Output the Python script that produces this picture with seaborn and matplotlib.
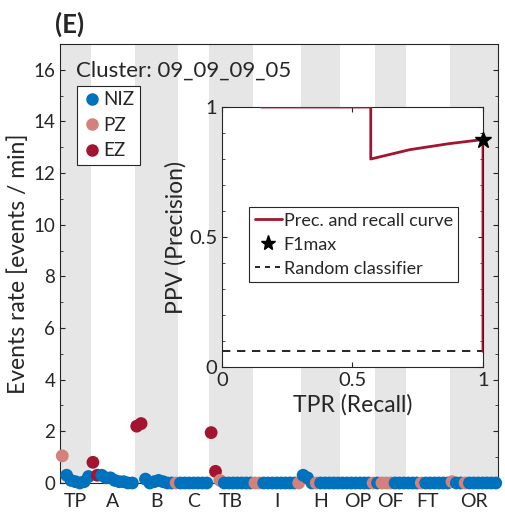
import numpy as np
import pandas as pd
import matplotlib
matplotlib.use('Agg')
import matplotlib.pyplot as plt
import seaborn as sns
from matplotlib.lines import Line2D

# phase categories
categories = ['TP', 'A', 'B', 'C', 'TB', 'I', 'H', 'OP', 'OF', 'FT', 'OR']

# event rates per sample (events / min), grouped by category
rates = [
    [1.05, 0.30, 0.10, 0.05, 0.00, 0.05, 0.25],
    [0.80, 0.30, 0.30, 0.20, 0.20, 0.10, 0.05, 0.05, 0.00, 0.00],
    [2.20, 2.30, 0.15, 0.00, 0.05, 0.10, 0.05, 0.00, 0.00, 0.00],
    [0.00, 0.00, 0.00, 0.00, 0.00, 0.00, 0.00],
    [1.95, 0.45, 0.10, 0.00, 0.00, 0.00, 0.00, 0.00, 0.00, 0.00],
    [0.00, 0.00, 0.00, 0.00, 0.00, 0.00, 0.00, 0.00, 0.00, 0.00, 0.00],
    [0.30, 0.20, 0.00, 0.00, 0.00, 0.00, 0.00, 0.00, 0.00],
    [0.00, 0.00, 0.00, 0.00, 0.00, 0.00, 0.00, 0.00],
    [0.00, 0.00, 0.00, 0.00, 0.00, 0.00, 0.00],
    [0.00, 0.00, 0.00, 0.00, 0.00, 0.00, 0.00, 0.00, 0.00, 0.00],
    [0.05, 0.00, 0.00, 0.00, 0.00, 0.00, 0.00, 0.00, 0.00, 0.00, 0.00],
]

# zone of each sample
zones = [
    ['PZ', 'NIZ', 'NIZ', 'NIZ', 'NIZ', 'NIZ', 'NIZ'],
    ['EZ', 'EZ', 'NIZ', 'NIZ', 'NIZ', 'NIZ', 'NIZ', 'NIZ', 'NIZ', 'NIZ'],
    ['EZ', 'EZ', 'NIZ', 'NIZ', 'NIZ', 'NIZ', 'NIZ', 'NIZ', 'NIZ', 'PZ'],
    ['NIZ', 'NIZ', 'NIZ', 'NIZ', 'NIZ', 'NIZ', 'NIZ'],
    ['EZ', 'EZ', 'PZ', 'NIZ', 'NIZ', 'NIZ', 'NIZ', 'NIZ', 'NIZ', 'NIZ'],
    ['PZ', 'PZ', 'NIZ', 'NIZ', 'NIZ', 'NIZ', 'NIZ', 'NIZ', 'NIZ', 'NIZ', 'PZ'],
    ['NIZ', 'NIZ', 'NIZ', 'PZ', 'NIZ', 'NIZ', 'NIZ', 'NIZ', 'NIZ'],
    ['NIZ', 'NIZ', 'NIZ', 'NIZ', 'NIZ', 'NIZ', 'NIZ', 'PZ'],
    ['NIZ', 'PZ', 'PZ', 'PZ', 'NIZ', 'NIZ', 'NIZ'],
    ['NIZ', 'NIZ', 'NIZ', 'PZ', 'NIZ', 'NIZ', 'NIZ', 'NIZ', 'NIZ', 'NIZ'],
    ['PZ', 'NIZ', 'NIZ', 'PZ', 'NIZ', 'NIZ', 'NIZ', 'NIZ', 'NIZ', 'NIZ', 'NIZ'],
]

# precision-recall curve
recall = [0.15, 0.57, 0.57, 0.72, 0.87, 1.0, 1.0]
precision = [1.0, 1.0, 0.80, 0.836, 0.859, 0.875, 0.06]
f1max_recall = 1.0
f1max_precision = 0.875
random_level = 0.06

zone_colors = {'NIZ': '#0072BD', 'PZ': '#D4807B', 'EZ': '#A2142F'}
curve_color = '#A2142F'

sns.set_style('ticks')
plt.rcParams['font.family'] = ['Lato', 'DejaVu Sans']

rows = []
idx = 0
for cat, rr, zz in zip(categories, rates, zones):
    for r, z in zip(rr, zz):
        rows.append({'sample': idx, 'rate': r, 'zone': z, 'phase': cat})
        idx += 1
df = pd.DataFrame(rows)
n_total = len(df)

fig = plt.figure(figsize=(5.05, 5.13), dpi=100)
ax = fig.add_axes([0.119, 0.0585, 0.867, 0.856])

# alternating bands for the phases
start = 0
centers = []
for k, rr in enumerate(rates):
    n = len(rr)
    if k % 2 == 0:
        ax.axvspan(start - 0.5, start + n - 0.5, color='#E6E6E6', lw=0, zorder=0)
    centers.append(start + (n - 1) / 2)
    start += n

sns.scatterplot(data=df, x='sample', y='rate', hue='zone',
                palette=zone_colors, hue_order=['NIZ', 'PZ', 'EZ'],
                s=85, linewidth=0, ax=ax, legend=False,
                clip_on=False, zorder=3)

ax.set_xlim(-0.5, n_total - 0.5)
ax.set_ylim(0, 17)
ax.set_yticks(np.arange(0, 17, 2))
ax.set_yticks(np.arange(1, 17, 2), minor=True)
ax.set_xticks(centers)
ax.set_xticklabels(categories)
ax.tick_params(axis='x', length=0, labelsize=14, pad=7)
ax.tick_params(axis='y', which='both', direction='in', right=True, labelsize=13.5)
ax.tick_params(axis='y', which='minor', length=2.5)
ax.set_xlabel('')
ax.set_ylabel('Events rate [events / min]', fontsize=16.5, labelpad=3)
for sp in ax.spines.values():
    sp.set_linewidth(0.8)
    sp.set_color('#262626')

ax.text(0.036, 0.94, 'Cluster: 09_09_09_05', transform=ax.transAxes,
        fontsize=16, va='center', ha='left')
fig.text(0.108, 0.952, '(E)', fontsize=18.5, fontweight='bold', va='center')

handles = [Line2D([], [], marker='o', ls='', color=zone_colors[z],
                  markersize=8, label=z) for z in ['NIZ', 'PZ', 'EZ']]
leg = ax.legend(handles=handles, loc='upper left', bbox_to_anchor=(0.038, 0.905),
                fontsize=13.5, frameon=True, fancybox=False, framealpha=1,
                handletextpad=0.1, borderpad=0.3, labelspacing=0.45,
                handlelength=1.0, borderaxespad=0)
leg.get_frame().set_edgecolor('#262626')
leg.get_frame().set_linewidth(0.8)

# inset with precision / recall
axi = fig.add_axes([0.4396, 0.2846, 0.5168, 0.5068])
axi.set_facecolor('white')
pr = pd.DataFrame({'recall': recall, 'precision': precision})
sns.lineplot(data=pr, x='recall', y='precision', sort=False, estimator=None,
             color=curve_color, lw=2, ax=axi, zorder=3)
axi.plot([0, 1], [random_level, random_level], ls='--', color='black', lw=1.2,
         dashes=(5, 4), zorder=2)
axi.plot([f1max_recall], [f1max_precision], marker='*', color='black',
         markersize=12, ls='', zorder=4, clip_on=False)
axi.set_xlim(0, 1)
axi.set_ylim(0, 1)
axi.set_xticks([0, 0.5, 1])
axi.set_xticklabels(['0', '0.5', '1'])
axi.set_yticks([0, 0.5, 1])
axi.set_yticklabels(['0', '0.5', '1'])
axi.set_yticks(np.arange(0.1, 1.0, 0.1), minor=True)
axi.tick_params(which='both', direction='in', top=True, right=True, labelsize=14.5)
axi.tick_params(which='minor', length=2.5)
axi.set_xlabel('TPR (Recall)', fontsize=16.5, labelpad=4)
axi.set_ylabel('PPV (Precision)', fontsize=16.5, labelpad=2)
for sp in axi.spines.values():
    sp.set_linewidth(0.8)
    sp.set_color('#262626')

ih = [Line2D([], [], color=curve_color, lw=2, label='Prec. and recall curve'),
      Line2D([], [], marker='*', ls='', color='black', markersize=11, label='F1max'),
      Line2D([], [], ls='--', color='black', lw=1.2, dashes=(3, 3), label='Random classifier')]
ileg = axi.legend(handles=ih, loc='upper left', bbox_to_anchor=(0.105, 0.615),
                  fontsize=13, frameon=True, fancybox=False, framealpha=1,
                  handlelength=1.5, handletextpad=0.1, borderpad=0.3,
                  labelspacing=0.45, borderaxespad=0)
ileg.get_frame().set_edgecolor('#262626')
ileg.get_frame().set_linewidth(0.8)

fig.savefig('out.png', dpi=100)
